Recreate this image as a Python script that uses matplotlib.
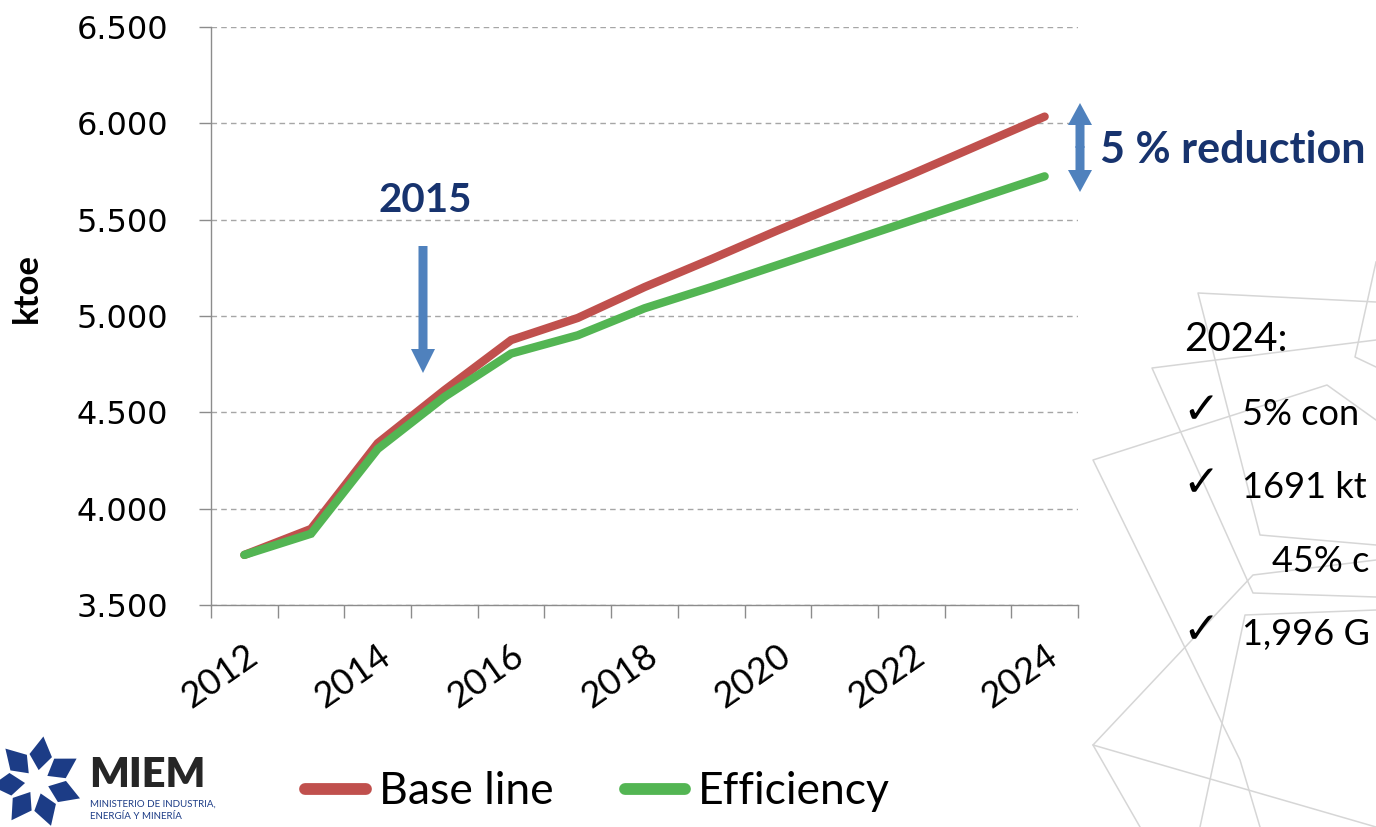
import numpy as np
import matplotlib.pyplot as plt
from matplotlib.patches import Polygon, FancyArrow
from matplotlib.lines import Line2D

# data (ktoe)
years = list(range(2012, 2025))
base_line = [3760, 3895, 4340, 4615, 4875, 4990, 5150, 5295, 5445, 5590, 5735, 5885, 6035]
efficiency = [3760, 3870, 4310, 4580, 4805, 4900, 5040, 5150, 5265, 5380, 5495, 5610, 5725]
y_ticks = [3500, 4000, 4500, 5000, 5500, 6000, 6500]
x_labels = [str(y) if y % 2 == 0 else '' for y in years]
series_names = ['Base line', 'Efficiency']
notes_title = '2024:'
# only the visible part of the notes (the slide cuts them at the right edge)
notes = ['5% con', '1691 kt', '45% c', '1,996 G']

RED = '#C0504D'
GREEN = '#53B553'
NAVY = '#17336E'
ARROW = '#4F81BD'
W, H = 1376, 827

fig = plt.figure(figsize=(W / 100, H / 100), dpi=100)
ax = fig.add_axes([211 / W, 1 - 605 / H, (1078 - 211) / W, (605 - 27) / H])
ax.patch.set_alpha(0)

x = np.arange(len(years))
ax.plot(x, base_line, color=RED, lw=6, solid_capstyle='round', solid_joinstyle='miter', zorder=3)
ax.plot(x, efficiency, color=GREEN, lw=6, solid_capstyle='round', solid_joinstyle='miter', zorder=4)

ax.set_xlim(-0.5, len(years) - 0.5)
ax.set_ylim(3500, 6500)
ax.set_yticks(y_ticks)
ax.set_yticklabels([f'{v:,}'.replace(',', '.') for v in y_ticks], fontsize=23, family='DejaVu Sans')
ax.yaxis.grid(True, linestyle=(0, (4, 3)), color='#A6A6A6', lw=1)
ax.set_axisbelow(True)

ax.set_xticks(x)
ax.set_xticklabels(x_labels, rotation=35, ha='right', va='top', rotation_mode='anchor',
                   fontsize=26, family='Lato')
ax.set_xticks(np.arange(-0.5, len(years), 1), minor=True)
ax.tick_params(axis='x', which='major', length=0, pad=24)
ax.tick_params(axis='x', which='minor', length=9, color='#8C8C8C', width=1)
ax.tick_params(axis='y', length=9, color='#8C8C8C', width=1, pad=22)

for s in ['top', 'right']:
    ax.spines[s].set_visible(False)
for s in ['left', 'bottom']:
    ax.spines[s].set_color('#8C8C8C')
    ax.spines[s].set_linewidth(1)

ax.set_ylabel('ktoe', fontsize=25, weight='bold', family='Lato')
ax.yaxis.set_label_coords((43 - 211) / 867, 1 - (288 - 27) / 578)

# legend under the chart
handles = [Line2D([], [], color=RED, lw=8.5, solid_capstyle='round'),
           Line2D([], [], color=GREEN, lw=8.5, solid_capstyle='round')]
fig.legend(handles, series_names, loc='center left', bbox_to_anchor=(305 / W, 1 - 792 / H),
           ncol=2, frameon=False, prop={'family': 'Lato', 'size': 32}, handlelength=1.37,
           handletextpad=0.29, columnspacing=1.6, borderpad=0, borderaxespad=0)

# overlay in pixel coordinates for annotations and decoration
ov = fig.add_axes([0, 0, 1, 1], zorder=5)
ov.set_xlim(0, W)
ov.set_ylim(H, 0)
ov.axis('off')
ov.patch.set_alpha(0)

# faint background outlines on the right
shapes = [
    [(1376, 302), (1198, 293), (1260, 535), (1376, 545)],
    [(1376, 340), (1152, 368), (1253, 593), (1376, 597)],
    [(1376, 420), (1327, 385), (1093, 460), (1240, 760), (1260, 827)],
    [(1376, 560), (1253, 575), (1093, 745), (1376, 827)],
    [(1376, 610), (1245, 615), (1200, 827)],
    [(1376, 262), (1355, 357), (1376, 367)],
    [(1093, 745), (1140, 827)],
]
for pts in shapes:
    xs, ys = zip(*pts)
    ov.plot(xs, ys, color='#D6D6D6', lw=1.1, zorder=0)

# "2015" marker
ov.text(425, 200, '2015', ha='center', va='center', fontsize=29, weight='bold',
        color=NAVY, family='Lato')
ov.add_patch(FancyArrow(423, 246, 0, 127, width=9, head_width=24, head_length=24,
                        length_includes_head=True, color=ARROW, lw=0))

# reduction double arrow
ov.add_patch(FancyArrow(1080, 148, 0, -45, width=9, head_width=24, head_length=22,
                        length_includes_head=True, color=ARROW, lw=0))
ov.add_patch(FancyArrow(1080, 146, 0, 46, width=9, head_width=24, head_length=22,
                        length_includes_head=True, color=ARROW, lw=0))
ov.text(1100, 150, '5 % reduction', ha='left', va='center', fontsize=31, weight='bold',
        color=NAVY, family='Lato')

# notes on the right
ov.text(1184, 351, notes_title, ha='left', va='baseline', fontsize=29, family='Lato')
rows = [(425, True, 1242), (498, True, 1242), (572, False, 1272), (645, True, 1242)]
for (yb, check, xt), txt in zip(rows, notes):
    if check:
        ov.text(1182, yb - 2, '\u2713', ha='left', va='baseline', fontsize=32,
                weight='bold', family='DejaVu Sans')
    ov.text(xt, yb, txt, ha='left', va='baseline', fontsize=26, family='Lato')

# MIEM logo
cx, cy = 37, 782
for k in range(7):
    a = np.deg2rad(-90 + k * 360 / 7 + 8)
    pts = []
    for r, da in [(12, 0), (29, 23), (46, 0), (29, -23)]:
        pts.append((cx + r * np.cos(a + np.deg2rad(da)), cy + r * np.sin(a + np.deg2rad(da))))
    ov.add_patch(Polygon(pts, closed=True, color='#1C3C86', lw=0))
ov.text(89, 787, 'MIEM', ha='left', va='baseline', fontsize=30, weight='heavy',
        color='#262626', family='Lato')
ov.text(90, 807, 'MINISTERIO DE INDUSTRIA,', ha='left', va='baseline', fontsize=7,
        color='#1C3C86', family='Lato')
ov.text(90, 819, 'ENERGÍA Y MINERÍA', ha='left', va='baseline', fontsize=7,
        color='#1C3C86', family='Lato')

fig.savefig('out.png', dpi=100)
